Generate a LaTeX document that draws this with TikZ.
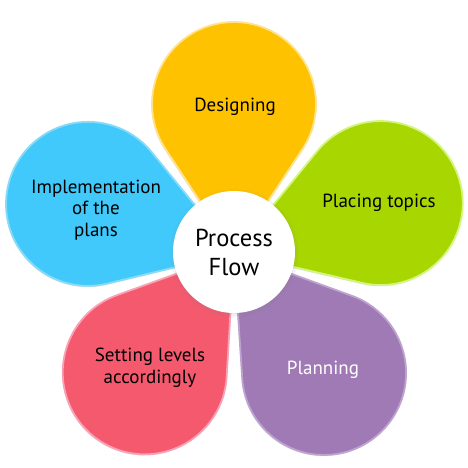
\documentclass[tikz,border=0pt]{standalone}
\usepackage{fontspec}
\setmainfont{PT Sans}
\usetikzlibrary{shadows}

\definecolor{designfill}{HTML}{FFC200}
\definecolor{designedge}{HTML}{FFE28E}
\definecolor{placingfill}{HTML}{A8D600}
\definecolor{placingedge}{HTML}{D2F57C}
\definecolor{implfill}{HTML}{40C9FA}
\definecolor{impledge}{HTML}{86DBF8}
\definecolor{settingfill}{HTML}{F4596E}
\definecolor{settingedge}{HTML}{F8A2B4}
\definecolor{planfill}{HTML}{9F7AB5}
\definecolor{planedge}{HTML}{BEA3D0}

\tikzset{
  petal/.style={line width=1.8pt,
    drop shadow={shadow xshift=-.6pt, shadow yshift=-1.2pt, opacity=.25}},
  petaltext/.style={align=center, text=black,
    font=\fontsize{19}{21.5}\selectfont},
  hubnode/.style={circle, fill=white, minimum size=122pt, inner sep=0pt,
    align=center, font=\fontsize{24.5}{29}\selectfont,
    circular drop shadow={shadow scale=1.06, shadow xshift=0pt,
      shadow yshift=-1pt, opacity=.35}}
}

\begin{document}
\begin{tikzpicture}[x=1pt, y=1pt]
  \useasboundingbox (0,0) rectangle (468,468);
  \coordinate (hub) at (234,215);

  % petals: tip in the hub, bulb of radius 82 at angle/distance
  \foreach \ang/\dist/\fillc/\edgec in {90/149/designfill/designedge,
      18.8/155/placingfill/placingedge, 161.4/154/implfill/impledge,
      233.2/149/settingfill/settingedge, 306.9/150/planfill/planedge} {
    \pgfmathsetmacro\half{asin(82/\dist)}
    \pgfmathsetmacro\tang{\dist*cos(\half)}
    \pgfmathsetmacro\startang{\ang-\half}
    \draw[petal, fill=\fillc, draw=\edgec] (hub) -- ++(\startang:\tang pt)
      arc[start angle=\startang-90, end angle=\ang+\half+90, radius=82pt] -- cycle;
  }

  \node[petaltext] (designing) at (235,361) {Designing};
  \node[petaltext] (placing) at (379,265) {Placing topics};
  \node[petaltext] (impl) at (96,258) {Implementation\\of the\\plans};
  \node[petaltext] (setting) at (150,100) {Setting levels\\accordingly};
  \node[petaltext, text=white] (planning) at (323,98) {Planning};

  \node[hubnode] (flow) at ([yshift=1pt]hub) {Process\\Flow};
\end{tikzpicture}
\end{document}
